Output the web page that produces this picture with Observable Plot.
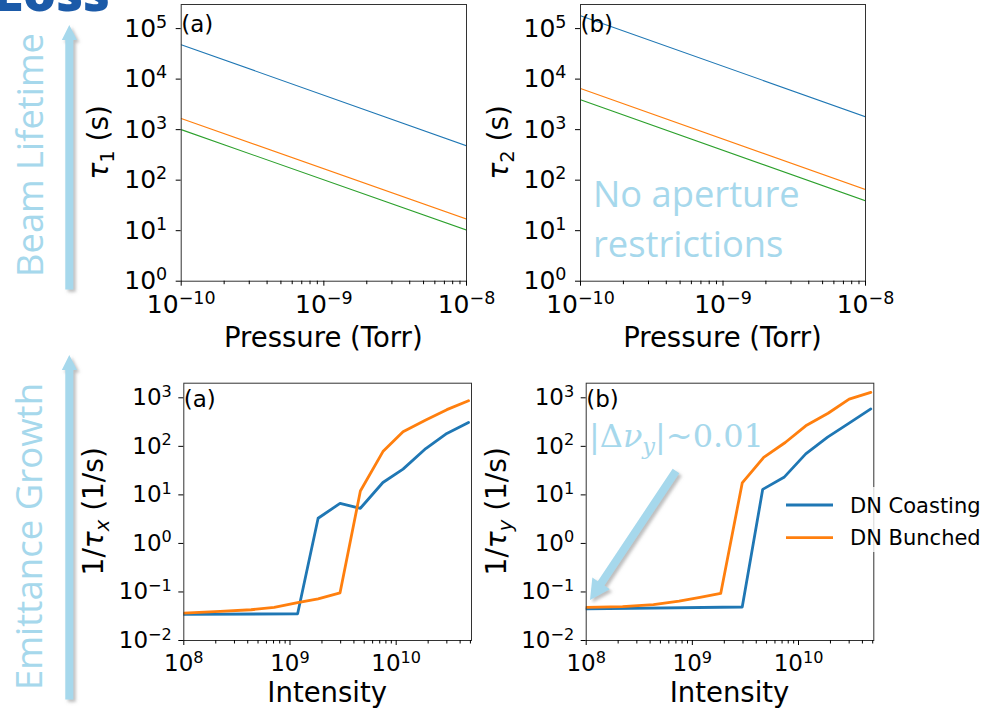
<!DOCTYPE html>
<html><head><meta charset="utf-8">
<script src="https://cdn.jsdelivr.net/npm/d3@7"></script>
<script src="https://cdn.jsdelivr.net/npm/@observablehq/plot@0.6"></script>
<style>
html,body{margin:0;padding:0;background:#fff;}
#fig{position:relative;width:1005px;height:709px;overflow:hidden;background:#fff;}
.panel{position:absolute;}
.panel svg{max-width:none;overflow:visible;background:transparent;}
#overlay{position:absolute;left:0;top:0;pointer-events:none;}
</style></head><body><div id="fig"></div>
<script>
// ---------------- data ----------------
const pressure = [1e-10, 1e-8];
const tau1Blue = [4.8e4, 480];
const tau1Orange = [1660, 17];
const tau1Green = [1000, 10.3];
const tau2Blue = [1.8e5, 1800];
const tau2Orange = [6500, 65];
const tau2Green = [3900, 39];

const intensityXCoast = [1e8, 1.18e9, 1.84e9, 2.96e9, 4.6e9, 7.5e9, 1.16e10, 1.9e10, 3.0e10, 4.8e10];
const rateXCoast      = [0.0345, 0.0355, 3.3, 6.7, 5.3, 18, 34, 90, 185, 310];
const intensityXBunch = [1e8, 2.2e8, 4.3e8, 7.1e8, 1.18e9, 1.84e9, 2.96e9, 4.6e9, 7.5e9, 1.16e10, 1.9e10, 3.0e10, 4.8e10];
const rateXBunch      = [0.0365, 0.040, 0.043, 0.048, 0.060, 0.072, 0.096, 12, 78, 200, 350, 570, 870];

const intensityYCoast = [1e8, 2.95e9, 4.6e9, 7.3e9, 1.17e10, 1.88e10, 3.0e10, 4.8e10];
const rateYCoast      = [0.045, 0.049, 13, 23, 70, 155, 300, 590];
const intensityYBunch = [1e8, 2.2e8, 4.3e8, 7.5e8, 1.18e9, 1.85e9, 2.95e9, 4.7e9, 7.5e9, 1.17e10, 1.9e10, 3.0e10, 4.8e10];
const rateYBunch      = [0.048, 0.050, 0.055, 0.065, 0.077, 0.093, 17.6, 59, 120, 265, 480, 940, 1290];

const pressureTicks = [1e-10, 1e-9, 1e-8];
const tauTicks = [1, 10, 100, 1e3, 1e4, 1e5];
const intensityTicks = [1e8, 1e9, 1e10];
const rateTicks = [1e-2, 1e-1, 1, 10, 100, 1e3];
const legendLabels = ["DN Coasting", "DN Bunched"];
const panelTags = ["(a)", "(b)", "(a)", "(b)"];

const C = {blue: "#1f77b4", orange: "#ff7f0e", green: "#2ca02c"};
const LB = "#a6d8ec";
const NS = "http://www.w3.org/2000/svg";

// minor ticks (2..9 within each decade)
function minors(lo, hi) {
  const out = [];
  for (let e = Math.floor(Math.log10(lo)); e <= Math.ceil(Math.log10(hi)); e++)
    for (let m = 2; m <= 9; m++) { const v = m * Math.pow(10, e); if (v > lo && v < hi) out.push(v); }
  return out;
}
const supMap = {"-":"⁻","0":"⁰","1":"¹","2":"²","3":"³","4":"⁴","5":"⁵","6":"⁶","7":"⁷","8":"⁸","9":"⁹"};
const unSup = {"⁻":"−","⁰":"0","¹":"1","²":"2","³":"3","⁴":"4","⁵":"5","⁶":"6","⁷":"7","⁸":"8","⁹":"9"};
const sup = v => "10" + String(Math.round(Math.log10(v))).split("").map(c => supMap[c]).join("");

const fig = document.getElementById("fig");

function panel(o) {
  const ml = o.frame.L - o.left, mr = o.left + o.w - o.frame.R;
  const mt = o.frame.T - o.top, mb = o.top + o.h - o.frame.B;
  const p = Plot.plot({
    width: o.w, height: o.h,
    marginLeft: ml, marginRight: mr, marginTop: mt, marginBottom: mb,
    x: {type: "log", domain: o.xDomain},
    y: {type: "log", domain: o.yDomain},
    style: {fontFamily: "DejaVu Sans", fontSize: o.fs + "px", background: "transparent", overflow: "visible", color: "#000"},
    marks: [
      ...o.series.map(s => Plot.line(s.x, {x: s.x, y: s.y, stroke: s.color, strokeWidth: o.lw, clip: true})),
      Plot.frame({stroke: "#333", strokeWidth: 1}),
      Plot.axisX({ticks: o.xMajor, tickFormat: sup, tickSize: 5, tickPadding: o.xpad, label: null}),
      Plot.axisX({ticks: minors(o.xDomain[0], o.xDomain[1]), tickFormat: () => "", tickSize: 3.5, label: null}),
      Plot.axisY({ticks: o.yMajor, tickFormat: sup, tickSize: 5, tickPadding: o.ypad, label: null}),
      Plot.text([o.tag], {frameAnchor: "top-left", text: d => d, dx: 0, dy: o.tagDy, lineAnchor: "top", textAnchor: "start", fontSize: 23})
    ]
  });
  // render tick label exponents as mathtext-like superscripts
  p.querySelectorAll('g[aria-label$="tick label"] text').forEach(t => {
    const s = t.textContent;
    if (!s.startsWith("10") || s.length < 3) return;
    const e = s.slice(2).split("").map(c => unSup[c] || c).join("");
    t.textContent = "10";
    const ts = document.createElementNS(NS, "tspan");
    ts.setAttribute("font-size", (0.7 * o.fs).toFixed(1));
    ts.setAttribute("dy", (-0.36 * o.fs).toFixed(1));
    ts.textContent = e;
    t.appendChild(ts);
  });
  const d = document.createElement("div");
  d.className = "panel";
  d.style.left = o.left + "px"; d.style.top = o.top + "px";
  d.appendChild(p);
  fig.appendChild(d);
}

panel({left: 100, top: 0, w: 400, h: 330, frame: {L: 180.7, R: 466, T: 4, B: 280.7},
  xDomain: [1e-10, 1e-8], yDomain: [1, 3e5], xMajor: pressureTicks, yMajor: tauTicks,
  fs: 25, lw: 1.1, xpad: 9, ypad: 9, tag: panelTags[0], tagDy: 11,
  series: [{x: pressure, y: tau1Blue, color: C.blue}, {x: pressure, y: tau1Orange, color: C.orange}, {x: pressure, y: tau1Green, color: C.green}]});
panel({left: 500, top: 0, w: 400, h: 330, frame: {L: 580, R: 865, T: 4, B: 280.7},
  xDomain: [1e-10, 1e-8], yDomain: [1, 3e5], xMajor: pressureTicks, yMajor: tauTicks,
  fs: 25, lw: 1.1, xpad: 9, ypad: 9, tag: panelTags[1], tagDy: 11,
  series: [{x: pressure, y: tau2Blue, color: C.blue}, {x: pressure, y: tau2Orange, color: C.orange}, {x: pressure, y: tau2Green, color: C.green}]});
panel({left: 100, top: 360, w: 400, h: 330, frame: {L: 183.3, R: 471, T: 382.7, B: 640},
  xDomain: [1e8, 5.12e10], yDomain: [1e-2, 2e3], xMajor: intensityTicks, yMajor: rateTicks,
  fs: 23, lw: 2.8, xpad: 9, ypad: 7, tag: panelTags[2], tagDy: 7,
  series: [{x: intensityXCoast, y: rateXCoast, color: C.blue}, {x: intensityXBunch, y: rateXBunch, color: C.orange}]});
panel({left: 500, top: 360, w: 400, h: 330, frame: {L: 585.7, R: 873.3, T: 382.7, B: 640},
  xDomain: [1e8, 5.12e10], yDomain: [1e-2, 2e3], xMajor: intensityTicks, yMajor: rateTicks,
  fs: 23, lw: 2.8, xpad: 9, ypad: 7, tag: panelTags[3], tagDy: 7,
  series: [{x: intensityYCoast, y: rateYCoast, color: C.blue}, {x: intensityYBunch, y: rateYBunch, color: C.orange}]});

// ---------------- overlay: labels, annotations, legend ----------------
const svg = d3.select(fig).append("svg").attr("id", "overlay").attr("width", 1005).attr("height", 709);
const defs = svg.append("defs");
const f = defs.append("filter").attr("id", "sh").attr("x", "-50%").attr("y", "-50%").attr("width", "200%").attr("height", "200%");
f.append("feDropShadow").attr("dx", 2.5).attr("dy", 2.5).attr("stdDeviation", 1.8).attr("flood-color", "#888").attr("flood-opacity", 0.55);

// "Loss" title fragment (clipped by the top edge, as in the source slide)
svg.append("text").attr("x", 110).attr("y", 11).attr("text-anchor", "end")
  .attr("font-family", "Open Sans").attr("font-weight", 800).attr("font-size", 52).attr("fill", "#1b5aa8").text("Loss");

// side texts
function vtext(x, y, s, size) {
  svg.append("text").attr("transform", `translate(${x},${y}) rotate(-90)`).attr("text-anchor", "middle")
    .attr("font-family", "Open Sans").attr("font-size", size).attr("fill", LB).text(s);
}
vtext(43, 155, "Beam Lifetime", 36.3);
vtext(41.5, 536.5, "Emittance Growth", 36.6);

// vertical arrows
function varrow(tipY, baseY, endY) {
  const g = svg.append("g").attr("filter", "url(#sh)").attr("fill", LB);
  g.append("rect").attr("x", 65.3).attr("y", baseY - 0.5).attr("width", 8).attr("height", endY - baseY);
  g.append("polygon").attr("points", `${61.8},${baseY} ${77},${baseY} ${69.3},${tipY}`);
}
varrow(25, 40, 290);
varrow(355, 370, 700);

// diagonal arrow
(function () {
  const tail = [676, 471], tip = [590, 600];
  const dx = tip[0] - tail[0], dy = tip[1] - tail[1], L = Math.hypot(dx, dy);
  const u = [dx / L, dy / L], n = [-u[1], u[0]];
  const hw = 4, hl = 20, hh = 10.5;
  const b = [tip[0] - hl * u[0], tip[1] - hl * u[1]];
  const pts = [
    [tail[0] + hw * n[0], tail[1] + hw * n[1]], [b[0] + hw * n[0], b[1] + hw * n[1]], [b[0] + hh * n[0], b[1] + hh * n[1]],
    tip, [b[0] - hh * n[0], b[1] - hh * n[1]], [b[0] - hw * n[0], b[1] - hw * n[1]], [tail[0] - hw * n[0], tail[1] - hw * n[1]]
  ];
  svg.append("polygon").attr("filter", "url(#sh)").attr("fill", LB).attr("points", pts.map(p => p.join(",")).join(" "));
})();

// axis labels
function hlabel(x, y, s) {
  svg.append("text").attr("x", x).attr("y", y).attr("text-anchor", "middle")
    .attr("font-family", "DejaVu Sans").attr("font-size", 27.5).attr("fill", "#000").text(s);
}
hlabel(323.3, 346.5, "Pressure (Torr)");
hlabel(722.5, 346.5, "Pressure (Torr)");
hlabel(327.2, 701.5, "Intensity");
hlabel(729.5, 701.5, "Intensity");

function ylabel(x, y, pre, sub, post) {
  const t = svg.append("text").attr("transform", `translate(${x},${y}) rotate(-90)`).attr("text-anchor", "middle")
    .attr("font-family", "DejaVu Sans").attr("font-size", 28).attr("fill", "#000");
  t.append("tspan").text(pre);
  t.append("tspan").attr("font-style", "italic").text("τ");
  t.append("tspan").attr("font-size", 19.5).attr("dy", 6)
    .attr("font-style", /[0-9]/.test(sub) ? "normal" : "italic").text(sub);
  t.append("tspan").attr("dy", -6).text(post);
}
ylabel(108, 142.3, "", "1", " (s)");
ylabel(508, 142.3, "", "2", " (s)");
ylabel(103, 511.3, "1/", "x", " (1/s)");
ylabel(505.7, 511.3, "1/", "y", " (1/s)");

// annotation texts
const na = svg.append("text").attr("font-family", "Open Sans").attr("font-size", 36.3).attr("fill", LB);
na.append("tspan").attr("x", 593).attr("y", 206.7).text("No aperture");
na.append("tspan").attr("x", 593).attr("y", 256.7).text("restrictions");

const dv = svg.append("text").attr("x", 589).attr("y", 446.7).attr("font-family", "DejaVu Serif").attr("font-size", 32).attr("fill", LB);
dv.append("tspan").text("|Δ");
dv.append("tspan").attr("font-style", "italic").text("ν");
dv.append("tspan").attr("font-style", "italic").attr("font-size", 22.5).attr("dy", 7).text("y");
dv.append("tspan").attr("dy", -7).text("|~0.01");

// legend
svg.append("rect").attr("x", 777).attr("y", 487).attr("width", 218).attr("height", 65).attr("fill", "#fff").attr("fill-opacity", 0.8);
const legColors = [C.blue, C.orange];
legendLabels.forEach((s, i) => {
  const y = 505 + i * 32.7;
  svg.append("line").attr("x1", 786).attr("x2", 833).attr("y1", y).attr("y2", y)
    .attr("stroke", legColors[i]).attr("stroke-width", 2.8);
  svg.append("text").attr("x", 850).attr("y", y + 7.5).attr("font-family", "DejaVu Sans").attr("font-size", 21)
    .attr("fill", "#000").text(s);
});
</script>
</body></html>
